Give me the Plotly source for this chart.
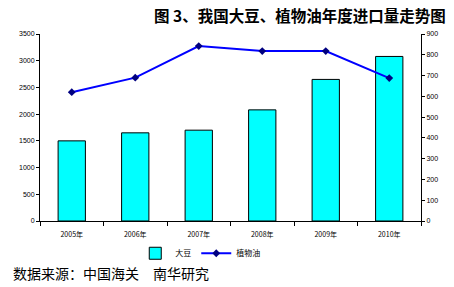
import plotly.graph_objects as go

years = ["2005年", "2006年", "2007年", "2008年", "2009年", "2010年"]
soy = [1500, 1650, 1700, 2080, 2650, 3080]
oil = [620, 690, 842, 818, 818, 688]
left_ticks = [0, 500, 1000, 1500, 2000, 2500, 3000, 3500]
right_ticks = [0, 100, 200, 300, 400, 500, 600, 700, 800, 900]

tick_font = dict(family="Liberation Sans, Arial, sans-serif", size=7, color="#000")
cjk = "Noto Sans CJK SC, sans-serif"

fig = go.Figure()
fig.add_trace(go.Bar(
    x=years, y=soy, name="大豆", width=0.43,
    marker=dict(color="#00FFFF", line=dict(color="#000", width=1)),
))
fig.add_trace(go.Scatter(
    x=years, y=oil, name="植物油", yaxis="y2", mode="lines+markers",
    line=dict(color="#0000FF", width=2),
    marker=dict(symbol="diamond", size=6, color="#000080"),
))

fig.update_layout(
    width=454, height=287,
    margin=dict(l=40, r=33, t=34, b=66),
    paper_bgcolor="white", plot_bgcolor="white",
    showlegend=True,
    legend=dict(orientation="h", x=0.25, y=-0.095, xanchor="left", yanchor="top",
                font=dict(family=cjk, size=8, color="#000"),
                itemwidth=30, tracegroupgap=0),
    xaxis=dict(type="category", tickson="boundaries", ticks="outside", ticklen=4,
               tickcolor="#000", showline=True, linecolor="#000", linewidth=1,
               ticklabelstandoff=7,
               tickfont=dict(family=cjk, size=7, color="#000"), showgrid=False),
    yaxis=dict(range=[0, 3500], tickvals=left_ticks, ticks="outside", ticklen=3,
               tickcolor="#000", showline=True, linecolor="#000", linewidth=1,
               showgrid=False, zeroline=False, tickfont=tick_font),
    yaxis2=dict(range=[0, 900], tickvals=right_ticks, overlaying="y", side="right",
                ticks="outside", ticklen=3, tickcolor="#000", showline=True,
                linecolor="#000", linewidth=1, showgrid=False, zeroline=False,
                tickfont=tick_font),
    annotations=[
        dict(text="<b>图 3、我国大豆、植物油年度进口量走势图</b>", xref="paper", yref="paper",
             x=1.07, y=1.0, xanchor="right", yanchor="bottom", yshift=6, showarrow=False,
             font=dict(family=cjk, size=15.5, color="#000")),
        dict(text="数据来源：中国海关　南华研究", xref="paper", yref="paper",
             x=-0.075, y=-0.215, xanchor="left", yanchor="top", showarrow=False,
             font=dict(family=cjk, size=14, color="#000")),
    ],
)

fig.write_html("out.html")
